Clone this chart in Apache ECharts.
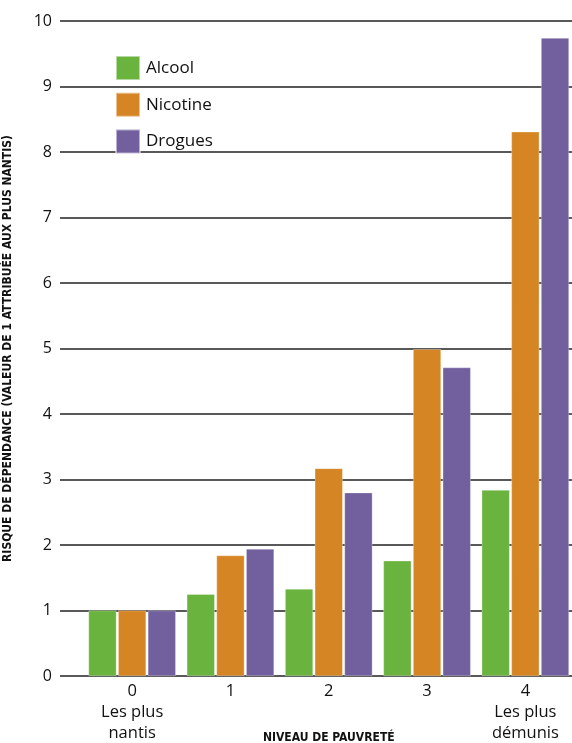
<!DOCTYPE html>
<html>
<head>
<meta charset="utf-8">
<script src="https://cdn.jsdelivr.net/npm/echarts@6/dist/echarts.min.js"></script>
<style>
html,body{margin:0;padding:0;background:#fff;}
#chart{width:572px;height:743px;}
</style>
</head>
<body>
<div id="chart"></div>
<script>
const categories = ['0\nLes plus\nnantis', '1', '2', '3', '4\nLes plus\ndémunis'];
const alcool = [1.0, 1.25, 1.33, 1.76, 2.84];
const nicotine = [1.0, 1.84, 3.17, 4.99, 8.31];
const drogues = [1.0, 1.94, 2.80, 4.71, 9.74];
const seriesNames = ['Alcool', 'Nicotine', 'Drogues'];
const colors = ['#6ab33f', '#d58523', '#725f9e'];
const yTitle = 'RISQUE DE DÉPENDANCE (VALEUR DE 1 ATTRIBUÉE AUX PLUS NANTIS)';
const xTitle = 'NIVEAU DE PAUVRETÉ';

const chart = echarts.init(document.getElementById('chart'), null, {renderer: 'canvas'});
const font = "'Open Sans', 'Noto Sans', sans-serif";
const narrow = "'Liberation Sans Narrow', 'DejaVu Sans Condensed', sans-serif";

const option = {
  animation: false,
  backgroundColor: '#ffffff',
  color: colors,
  legend: {
    orient: 'vertical',
    left: 110,
    top: 50,
    itemWidth: 24,
    itemHeight: 24,
    itemGap: 10.7,
    icon: 'rect',
    data: seriesNames,
    textStyle: {fontFamily: font, fontSize: 17, color: '#111', padding: [0, 0, 0, 1]}
  },
  grid: [
    {left: 60, right: 0, top: 21, bottom: 67, outerBoundsMode: 'none', containLabel: false},
    {left: 83, width: 491.5, top: 21, bottom: 67, outerBoundsMode: 'none', containLabel: false}
  ],
  xAxis: [
    {gridIndex: 0, type: 'value', min: 0, max: 1, show: false},
    {
      gridIndex: 1, type: 'category', data: categories,
      axisLine: {show: false}, axisTick: {show: false},
      axisLabel: {interval: 0, margin: 5, fontFamily: font, fontSize: 16.5, lineHeight: 21, color: '#111'},
      name: xTitle, nameLocation: 'middle', nameGap: 56, nameMoveOverlap: false,
      nameTextStyle: {fontFamily: narrow, fontSize: 12, fontWeight: 'bold', color: '#111'}
    }
  ],
  yAxis: [
    {
      gridIndex: 0, type: 'value', min: 0, max: 10, interval: 1,
      axisLine: {show: false}, axisTick: {show: false},
      splitLine: {show: true, lineStyle: {color: '#222', width: 1.5}},
      axisLabel: {margin: 8, fontFamily: font, fontSize: 16, color: '#111'},
      name: yTitle, nameLocation: 'middle', nameRotate: 90, nameGap: 46, nameMoveOverlap: false,
      nameTextStyle: {fontFamily: narrow, fontSize: 12, fontWeight: 'bold', color: '#111'}
    },
    {gridIndex: 1, type: 'value', min: 0, max: 10, show: false}
  ],
  series: [
    {name: seriesNames[0], type: 'bar', xAxisIndex: 1, yAxisIndex: 1, data: alcool, barWidth: 28, barGap: '6%',
     itemStyle: {color: colors[0], borderColor: 'rgba(255,255,255,0.5)', borderWidth: 0.6}},
    {name: seriesNames[1], type: 'bar', xAxisIndex: 1, yAxisIndex: 1, data: nicotine, barWidth: 28, barGap: '6%',
     itemStyle: {color: colors[1], borderColor: 'rgba(255,255,255,0.5)', borderWidth: 0.6}},
    {name: seriesNames[2], type: 'bar', xAxisIndex: 1, yAxisIndex: 1, data: drogues, barWidth: 28, barGap: '6%',
     itemStyle: {color: colors[2], borderColor: 'rgba(255,255,255,0.5)', borderWidth: 0.6}}
  ]
};
chart.setOption(option);
</script>
</body>
</html>
